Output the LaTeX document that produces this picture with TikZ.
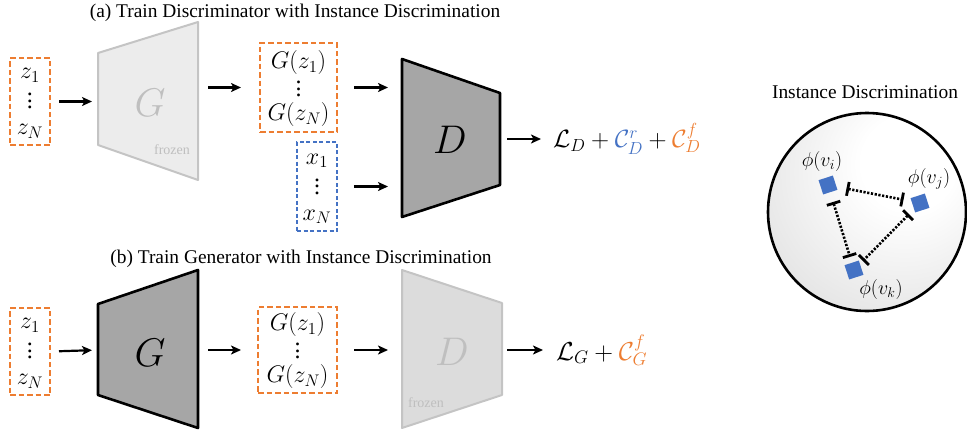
\RequirePackage{fix-cm}
\documentclass[tikz,border=0pt]{standalone}
\usepackage{fontspec}
\setmainfont{Liberation Serif}
\usetikzlibrary{arrows.meta,calc}
\definecolor{orng}{HTML}{ED7D31}
\definecolor{blu}{HTML}{4472C4}
\definecolor{frzfill}{HTML}{ECECEC}
\definecolor{frzfillb}{HTML}{DCDCDC}
\definecolor{frzline}{HTML}{C4C4C4}
\definecolor{frztext}{HTML}{BFBFBF}
\definecolor{darkfill}{HTML}{A6A6A6}
\newcommand{\vdts}{\lower2pt\vbox{\baselineskip6.5pt\lineskiplimit0pt\hbox{.}\hbox{.}\hbox{.}}}
\pgfdeclareradialshading{sphshade}{\pgfpoint{12bp}{14bp}}{color(0bp)=(white); color(12bp)=(white); color(62bp)=(black!20); color(100bp)=(black!25)}
\tikzset{
  arr/.style={line width=2.2pt, -{Stealth[length=10pt,width=9pt,inset=2.5pt]}},
  obox/.style={draw=orng, line width=2pt, dash pattern=on 5.5pt off 3pt, inner sep=0pt, align=center},
  bbox/.style={draw=blu, line width=1.6pt, dash pattern=on 4pt off 2.5pt, inner sep=0pt, align=center},
  mtxt/.style={font=\fontsize{24}{28}\selectfont},
  gtxt/.style={font=\fontsize{24}{26}\selectfont},
  ttl/.style={font=\fontsize{19.4}{22}\selectfont, inner sep=0pt},
  frozenpoly/.style={fill=frzfill, draw=frzline, line width=2pt, line join=round},
  darkpoly/.style={fill=darkfill, draw=black, line width=2.6pt, line join=round},
  biglbl/.style={font=\fontsize{40}{44}\selectfont, inner sep=0pt},
  frztxt/.style={font=\fontsize{14}{16}\selectfont, text=frztext, inner sep=0pt},
  sq/.style={fill=blu, minimum size=15pt, inner sep=0pt, rotate=18},
  phil/.style={font=\fontsize{20}{22}\selectfont, inner sep=0pt},
  idline/.style={line width=2.6pt, dash pattern=on 2.2pt off 1.6pt, {Bar[width=14pt,line width=2.8pt]}-{Bar[width=14pt,line width=2.8pt]}}
}
\begin{document}
\begin{tikzpicture}[x=1pt,y=-1pt]
\useasboundingbox (0,0) rectangle (967,434);

% ---------------- (a) ----------------
\node[ttl] (ta) at (295,13) {(a) Train Discriminator with Instance Discrimination};

\node[obox, mtxt, minimum width=40pt, minimum height=87pt] (za) at (30,101.5)
  {\rule{0pt}{14pt}$z_1$\\\vdts\\$z_N$};

\draw[frozenpoly] (98,53) -- (198,22) -- (198,180) -- (98,145) -- cycle;
\coordinate (Gain) at (98,101.5);
\coordinate (Gaout) at (198,87.5);
\node[biglbl, text=frztext] (Gal) at (150,103) {$G$};
\node[frztxt] (fa) at (172,150) {frozen};

\node[obox, gtxt, minimum width=77pt, minimum height=89pt] (gza) at (298.5,87.5)
  {\rule{0pt}{20pt}$G(z_1)$\\\vdts\\$G(z_N)$};

\node[bbox, mtxt, minimum width=40pt, minimum height=89pt] (xa) at (317,186.5)
  {\rule{0pt}{15pt}$x_1$\\\vdts\\$x_N$};

\draw[darkpoly] (402,59) -- (500,93) -- (500,185) -- (402,217) -- cycle;
\coordinate (Dain1) at (402,87.5);
\coordinate (Dain2) at (402,186.5);
\coordinate (Daout) at (500,139);
\node[biglbl] (Dal) at (450,140) {$D$};

\node[font=\fontsize{25}{28}\selectfont, inner sep=0pt, anchor=west] (LD) at (553,139)
  {$\mathcal{L}_D+{\color{blu}\mathcal{C}_D^r}+{\color{orng}\mathcal{C}_D^f}$};

\draw[arr, shorten <=8pt, shorten >=6pt] (za.east) -- (Gain);
\draw[arr, shorten <=10pt, shorten >=18pt] (Gaout) -- (gza.west);
\draw[arr, shorten <=16pt, shorten >=14pt] (gza.east) -- (Dain1);
\draw[arr, shorten <=16pt, shorten >=14pt] (xa.east) -- (Dain2);
\draw[arr, shorten <=7pt, shorten >=12pt] (Daout) -- (LD.west);

% ---------------- (b) ----------------
\node[ttl] (tb) at (301,259) {(b) Train Generator with Instance Discrimination};

\node[obox, mtxt, minimum width=40pt, minimum height=87pt] (zb) at (30,351.5)
  {\rule{0pt}{14pt}$z_1$\\\vdts\\$z_N$};

\draw[darkpoly] (98,304) -- (198,270) -- (198,428) -- (98,395) -- cycle;
\coordinate (Gbin) at (98,350);
\coordinate (Gbout) at (198,350);
\node[biglbl] (Gbl) at (150,353) {$G$};

\node[obox, gtxt, minimum width=79pt, minimum height=86pt] (gzb) at (297.5,350)
  {\rule{0pt}{19pt}$G(z_1)$\\\vdts\\$G(z_N)$};

\draw[frozenpoly, fill=frzfillb] (402,270) -- (502,303) -- (502,395) -- (402,428) -- cycle;
\coordinate (Dbin) at (402,350);
\coordinate (Dbout) at (502,350);
\node[biglbl, text=frztext] (Dbl) at (452,352) {$D$};
\node[frztxt] (fb) at (426,403) {frozen};

\node[font=\fontsize{26}{28}\selectfont, inner sep=0pt, anchor=west] (LG) at (556,350)
  {$\mathcal{L}_G+{\color{orng}\mathcal{C}_G^f}$};

\draw[arr, shorten <=8pt, shorten >=6pt] (zb.east) -- (Gbin);
\draw[arr, shorten <=10pt, shorten >=16pt] (Gbout) -- (gzb.west);
\draw[arr, shorten <=16pt, shorten >=14pt] (gzb.east) -- (Dbin);
\draw[arr, shorten <=5pt, shorten >=13pt] (Dbout) -- (LG.west);

% ---------------- Instance discrimination ----------------
\node[ttl] (ti) at (865,92) {Instance Discrimination};
\node[circle, minimum size=198pt, draw, line width=2.6pt, shading=sphshade] (sph) at (867,212) {};

\node[sq] (vi) at (828,185) {};
\node[sq] (vj) at (920,203) {};
\node[sq] (vk) at (854,270) {};
\node[phil] (li) at (822,161) {$\phi(v_i)$};
\node[phil] (lj) at (929,179) {$\phi(v_j)$};
\node[phil] (lk) at (881,289) {$\phi(v_k)$};

\draw[idline, shorten <=10pt, shorten >=8pt] (vi) -- (vj);
\draw[idline, shorten <=10pt, shorten >=6pt] (vi) -- (vk);
\draw[idline, shorten <=7pt, shorten >=4pt] (vj) -- (vk);
\end{tikzpicture}
\end{document}
